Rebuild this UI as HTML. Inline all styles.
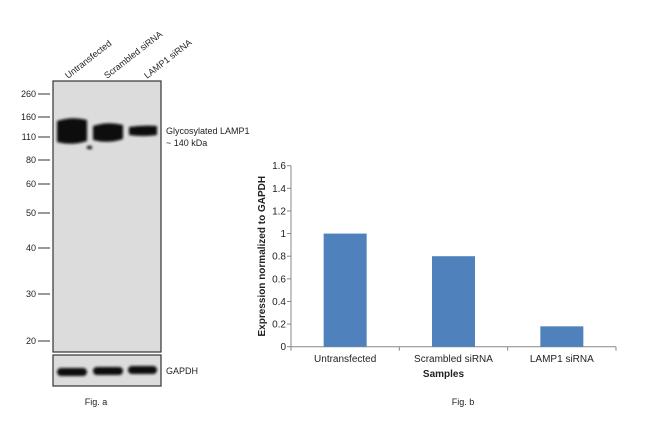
<!DOCTYPE html>
<html><head><meta charset="utf-8"><style>
body{margin:0;background:#fff;width:650px;height:437px;overflow:hidden;font-family:"Liberation Sans",sans-serif}
svg text{font-family:"Liberation Sans",sans-serif}
</style></head><body>
<svg width="650" height="437">
<defs><filter id="bl"><feGaussianBlur stdDeviation="1.2"/></filter></defs>
<g>
<rect x="53" y="81" width="108" height="271" fill="#dcdcdc" stroke="#333" stroke-width="1.2"/>
<rect x="53" y="355" width="108" height="31" fill="#dcdcdc" stroke="#333" stroke-width="1.2"/>
<g filter="url(#bl)" fill="#080808">
<path d="M57,121 Q72,116 87,120 L87,141 Q72,146 57,142 Z"/>
<path d="M93,126 Q108,121 123,125 L123,139 Q108,144 93,140 Z"/>
<path d="M129,127 Q143,125 157,126 L157,135 Q143,137 129,135 Z"/>
<rect x="87" y="146" width="5" height="3"/>
<rect x="57" y="368" width="30" height="8" rx="4"/>
<rect x="93" y="367" width="30" height="8" rx="4"/>
<rect x="128" y="366" width="29" height="8" rx="4"/>
</g>
<g font-size="9" fill="#222" text-anchor="end">
<text x="36" y="97">260</text><line x1="38" y1="94" x2="50" y2="94" stroke="#333"/>
<text x="36" y="120">160</text><line x1="38" y1="117" x2="50" y2="117" stroke="#333"/>
<text x="36" y="140">110</text><line x1="38" y1="137" x2="50" y2="137" stroke="#333"/>
<text x="36" y="163">80</text><line x1="38" y1="160" x2="50" y2="160" stroke="#333"/>
<text x="36" y="187">60</text><line x1="38" y1="184" x2="50" y2="184" stroke="#333"/>
<text x="36" y="216">50</text><line x1="38" y1="213" x2="50" y2="213" stroke="#333"/>
<text x="36" y="251">40</text><line x1="38" y1="248" x2="50" y2="248" stroke="#333"/>
<text x="36" y="297">30</text><line x1="38" y1="294" x2="50" y2="294" stroke="#333"/>
<text x="36" y="344">20</text><line x1="38" y1="341" x2="50" y2="341" stroke="#333"/>
</g>
<g font-size="9" fill="#222">
<text transform="translate(68,79) rotate(-38)">Untransfected</text>
<text transform="translate(107,79) rotate(-38)">Scrambled siRNA</text>
<text transform="translate(147,79) rotate(-38)">LAMP1 siRNA</text>
<text x="166" y="134">Glycosylated LAMP1</text>
<text x="166" y="146">~ 140 kDa</text>
<text x="166" y="374">GAPDH</text>
<text x="96" y="405" text-anchor="middle">Fig. a</text>
</g>
</g>
<g id="chart"></g>
</svg>
<script>
const categories=["Untransfected","Scrambled siRNA","LAMP1 siRNA"];
const values=[1.0,0.8,0.18];
const ticks=[0,0.2,0.4,0.6,0.8,1,1.2,1.4,1.6];
const NS="http://www.w3.org/2000/svg";
const g=document.getElementById('chart');
const x0=291,x1=616,yb=346.7,yt=165.7,ymax=1.6;
const y=v=>yb-(v/ymax)*(yb-yt);
const bw=(x1-x0)/categories.length;
function el(t,a,txt){const e=document.createElementNS(NS,t);for(const k in a)e.setAttribute(k,a[k]);if(txt!=null)e.textContent=txt;g.appendChild(e);return e;}
let ax=el('line',{x1:x0,y1:yt,x2:x0,y2:yb,stroke:'#888'});


let xa=el('line',{x1:x0,y1:yb,x2:x1,y2:yb,stroke:'#888'});


ticks.forEach(t=>{
 let l=el('line',{x1:x0-4,y1:y(t),x2:x0,y2:y(t),stroke:'#888'});
 
 
 let tx=el('text',{x:x0-5,y:y(t)+3.5,'font-size':10,'text-anchor':'end',fill:'#222'},String(t));
 
 
});
for(let i=0;i<=categories.length;i++){
 let l=el('line',{x1:x0+i*bw,y1:yb,x2:x0+i*bw,y2:yb+4,stroke:'#888'});
 
 
}
categories.forEach((c,i)=>{
 const cx=x0+bw*(i+0.5);
 let r=el('rect',{x:cx-21.5,y:y(values[i]),width:43,height:yb-y(values[i]),fill:'#4f81bd'});
 
 
 let t=el('text',{x:cx,y:362,'font-size':10,'text-anchor':'middle',fill:'#222'},c);
 
 
});
let xt=el('text',{x:x0+(x1-x0)/2-10,y:377,'font-size':10,'font-weight':'bold','text-anchor':'middle',fill:'#222'},'Samples');


let yt2=el('text',{transform:`translate(265,${(yb+yt)/2}) rotate(-90)`,'font-size':10,'font-weight':'bold','text-anchor':'middle',fill:'#222'},'Expression normalized to GAPDH');


let fb=el('text',{x:463,y:405,'font-size':9,'text-anchor':'middle',fill:'#222'},'Fig. b');


</script>
</body></html>
